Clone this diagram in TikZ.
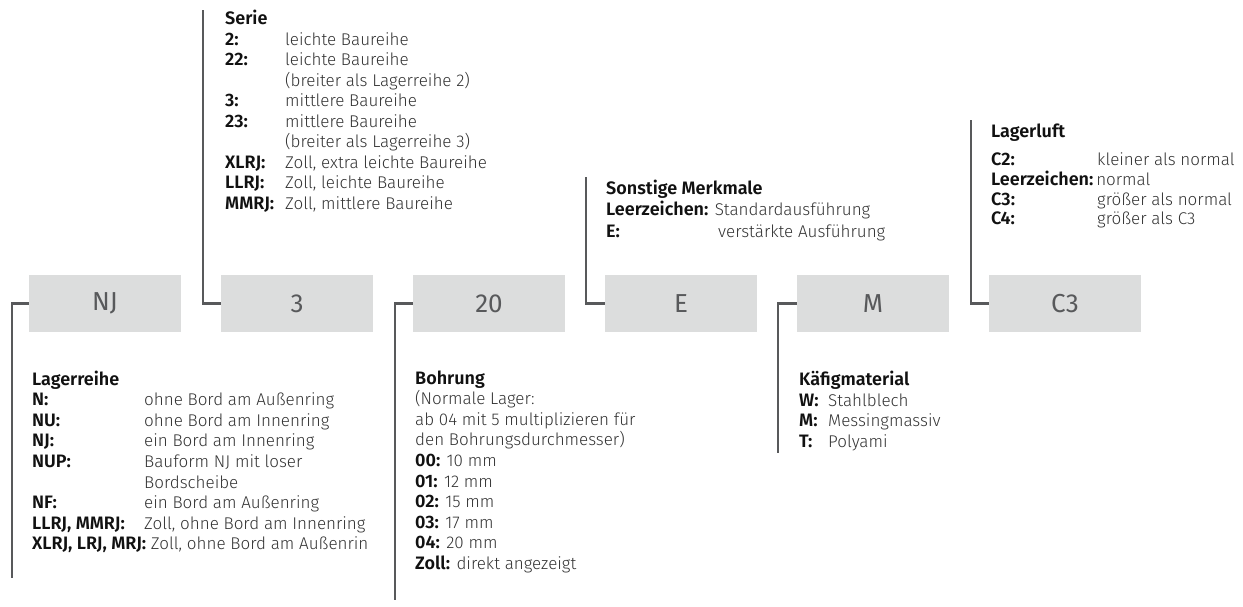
\documentclass[tikz,border=0pt]{standalone}
\usepackage{fontspec}
\setmainfont{Fira Sans}[UprightFont={* Light},BoldFont={* SemiBold}]
\newfontfamily\boxfont{Fira Sans}
\definecolor{linegray}{HTML}{58595B}
\definecolor{boxgray}{HTML}{DCDDDD}
\definecolor{desc}{HTML}{333333}
\definecolor{lab}{HTML}{111111}
\newcommand\mylbl[1]{\textcolor{lab}{\fontsize{18}{20}\selectfont\bfseries #1}}
\newcommand\mylblw[2]{\makebox[#1pt][l]{\mylbl{#2}}}
\tikzset{
 codebox/.style={fill=boxgray, minimum width=152pt, minimum height=57pt, inner sep=0pt, text=linegray, font=\boxfont\fontsize{26}{30}\selectfont},
 conn/.style={draw=linegray, line width=2.2pt},
 desctext/.style={anchor=base west, inner sep=0pt, text=desc, font=\fontsize{17}{20}\selectfont},
 headtext/.style={desctext, text=lab, font=\fontsize{18}{20}\selectfont\bfseries},
}
\begin{document}
\begin{tikzpicture}[x=1pt,y=-1pt]
\useasboundingbox (0,0) rectangle (1243,607);
% code boxes
\node[codebox] (nj) at (105,303.5) {NJ};
\node[codebox] (s3) at (297,303.5) {3};
\node[codebox] (b20) at (489,303.5) {20};
\node[codebox] (ee) at (681,303.5) {E};
\node[codebox] (mm) at (873,303.5) {M};
\node[codebox] (c3) at (1065,303.5) {C3};
% connector ends
\coordinate (njend) at (12,578);
\coordinate (s3top) at (203,10);
\coordinate (b20end) at (395,600);
\coordinate (eetop) at (586,177);
\coordinate (mmend) at (778,453);
\coordinate (c3top) at (971,120);
\draw[conn] (nj.west) -| (njend);
\draw[conn] (s3.west) -| (s3top);
\draw[conn] (b20.west) -| (b20end);
\draw[conn] (ee.west) -| (eetop);
\draw[conn] (mm.west) -| (mmend);
\draw[conn] (c3.west) -| (c3top);
% Lagerreihe
\node[headtext] (lr0) at (32,385) {Lagerreihe};
\node[desctext] (lr1) at (32,405.6) {\mylblw{112}{N:}ohne Bord am Außenring};
\node[desctext] (lr2) at (32,426.2) {\mylblw{112}{NU:}ohne Bord am Innenring};
\node[desctext] (lr3) at (32,446.8) {\mylblw{112}{NJ:}ein Bord am Innenring};
\node[desctext] (lr4) at (32,467.4) {\mylblw{112}{NUP:}Bauform NJ mit loser};
\node[desctext] (lr5) at (32,488) {\mylblw{112}{}Bordscheibe};
\node[desctext] (lr6) at (32,508.6) {\mylblw{112}{NF:}ein Bord am Außenring};
\node[desctext] (lr7) at (32,529.2) {\mylblw{112}{LLRJ, MMRJ:}Zoll, ohne Bord am Innenring};
\node[desctext] (lr8) at (32,549.8) {\mylbl{XLRJ, LRJ, MRJ:} Zoll, ohne Bord am Außenrin};
% Serie
\node[headtext] (se0) at (225,25) {Serie};
\node[desctext] (se1) at (225,45.5) {\mylblw{60}{2:}leichte Baureihe};
\node[desctext] (se2) at (225,66) {\mylblw{60}{22:}leichte Baureihe};
\node[desctext] (se3) at (225,86.5) {\mylblw{60}{}(breiter als Lagerreihe 2)};
\node[desctext] (se4) at (225,107) {\mylblw{60}{3:}mittlere Baureihe};
\node[desctext] (se5) at (225,127.5) {\mylblw{60}{23:}mittlere Baureihe};
\node[desctext] (se6) at (225,148) {\mylblw{60}{}(breiter als Lagerreihe 3)};
\node[desctext] (se7) at (225,168.5) {\mylblw{60}{XLRJ:}Zoll, extra leichte Baureihe};
\node[desctext] (se8) at (225,189) {\mylblw{60}{LLRJ:}Zoll, leichte Baureihe};
\node[desctext] (se9) at (225,209.5) {\mylblw{60}{MMRJ:}Zoll, mittlere Baureihe};
% Bohrung
\node[headtext] (bo0) at (415,384) {Bohrung};
\node[desctext] (bo1) at (415,404.6) {(Normale Lager:};
\node[desctext] (bo2) at (415,425.2) {ab 04 mit 5 multiplizieren für};
\node[desctext] (bo3) at (415,445.8) {den Bohrungsdurchmesser)};
\node[desctext] (bo4) at (415,466.4) {\mylbl{00:} 10 mm};
\node[desctext] (bo5) at (415,487) {\mylbl{01:} 12 mm};
\node[desctext] (bo6) at (415,507.6) {\mylbl{02:} 15 mm};
\node[desctext] (bo7) at (415,528.2) {\mylbl{03:} 17 mm};
\node[desctext] (bo8) at (415,548.8) {\mylbl{04:} 20 mm};
\node[desctext] (bo9) at (415,569.4) {\mylbl{Zoll:} direkt angezeigt};
% Sonstige Merkmale
\node[headtext] (so0) at (606,194) {Sonstige Merkmale};
\node[desctext] (so1) at (606,215.5) {\mylbl{Leerzeichen:} Standardausführung};
\node[desctext] (so2) at (606,237) {\mylblw{112}{E:}verstärkte Ausführung};
% Kaefigmaterial
\node[headtext] (ka0) at (799,385) {Käfigmaterial};
\node[desctext] (ka1) at (799,406) {\mylblw{29}{W:}Stahlblech};
\node[desctext] (ka2) at (799,426.5) {\mylblw{29}{M:}Messingmassiv};
\node[desctext] (ka3) at (799,447) {\mylblw{29}{T:}Polyami};
% Lagerluft
\node[headtext] (ll0) at (991,138) {Lagerluft};
\node[desctext] (ll1) at (991,166) {\mylblw{106}{C2:}kleiner als normal};
\node[desctext] (ll2) at (991,185.5) {\mylbl{Leerzeichen:}\,normal};
\node[desctext] (ll3) at (991,205) {\mylblw{106}{C3:}größer als normal};
\node[desctext] (ll4) at (991,224.5) {\mylblw{106}{C4:}größer als C3};
\end{tikzpicture}
\end{document}
